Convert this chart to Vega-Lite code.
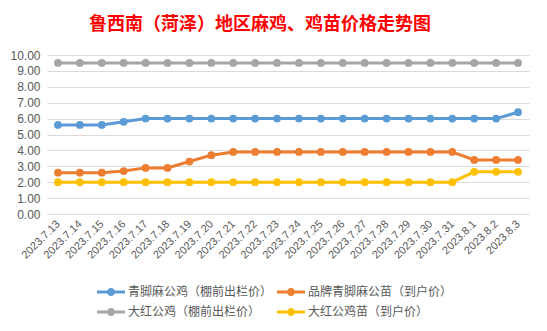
{
  "$schema": "https://vega.github.io/schema/vega-lite/v6.json",
  "autosize": "none",
  "width": 482,
  "height": 159,
  "padding": {"left": 47, "top": 55, "right": 18, "bottom": 117},
  "background": "white",
  "title": {
    "text": "鲁西南（菏泽）地区麻鸡、鸡苗价格走势图",
    "font": "Noto Sans CJK SC",
    "fontSize": 18,
    "fontWeight": "bold",
    "color": "#ff0000",
    "anchor": "middle",
    "dx": -28,
    "offset": 15
  },
  "config": {
    "view": {"stroke": null},
    "font": "Noto Sans CJK SC"
  },
  "data": {
    "values": [
      {"date": "2023.7.13", "series": "青脚麻公鸡（棚前出栏价）", "price": 5.6},
      {"date": "2023.7.14", "series": "青脚麻公鸡（棚前出栏价）", "price": 5.6},
      {"date": "2023.7.15", "series": "青脚麻公鸡（棚前出栏价）", "price": 5.6},
      {"date": "2023.7.16", "series": "青脚麻公鸡（棚前出栏价）", "price": 5.8},
      {"date": "2023.7.17", "series": "青脚麻公鸡（棚前出栏价）", "price": 6.0},
      {"date": "2023.7.18", "series": "青脚麻公鸡（棚前出栏价）", "price": 6.0},
      {"date": "2023.7.19", "series": "青脚麻公鸡（棚前出栏价）", "price": 6.0},
      {"date": "2023.7.20", "series": "青脚麻公鸡（棚前出栏价）", "price": 6.0},
      {"date": "2023.7.21", "series": "青脚麻公鸡（棚前出栏价）", "price": 6.0},
      {"date": "2023.7.22", "series": "青脚麻公鸡（棚前出栏价）", "price": 6.0},
      {"date": "2023.7.23", "series": "青脚麻公鸡（棚前出栏价）", "price": 6.0},
      {"date": "2023.7.24", "series": "青脚麻公鸡（棚前出栏价）", "price": 6.0},
      {"date": "2023.7.25", "series": "青脚麻公鸡（棚前出栏价）", "price": 6.0},
      {"date": "2023.7.26", "series": "青脚麻公鸡（棚前出栏价）", "price": 6.0},
      {"date": "2023.7.27", "series": "青脚麻公鸡（棚前出栏价）", "price": 6.0},
      {"date": "2023.7.28", "series": "青脚麻公鸡（棚前出栏价）", "price": 6.0},
      {"date": "2023.7.29", "series": "青脚麻公鸡（棚前出栏价）", "price": 6.0},
      {"date": "2023.7.30", "series": "青脚麻公鸡（棚前出栏价）", "price": 6.0},
      {"date": "2023.7.31", "series": "青脚麻公鸡（棚前出栏价）", "price": 6.0},
      {"date": "2023.8.1", "series": "青脚麻公鸡（棚前出栏价）", "price": 6.0},
      {"date": "2023.8.2", "series": "青脚麻公鸡（棚前出栏价）", "price": 6.0},
      {"date": "2023.8.3", "series": "青脚麻公鸡（棚前出栏价）", "price": 6.4},
      {"date": "2023.7.13", "series": "品牌青脚麻公苗（到户价）", "price": 2.6},
      {"date": "2023.7.14", "series": "品牌青脚麻公苗（到户价）", "price": 2.6},
      {"date": "2023.7.15", "series": "品牌青脚麻公苗（到户价）", "price": 2.6},
      {"date": "2023.7.16", "series": "品牌青脚麻公苗（到户价）", "price": 2.7},
      {"date": "2023.7.17", "series": "品牌青脚麻公苗（到户价）", "price": 2.9},
      {"date": "2023.7.18", "series": "品牌青脚麻公苗（到户价）", "price": 2.9},
      {"date": "2023.7.19", "series": "品牌青脚麻公苗（到户价）", "price": 3.3},
      {"date": "2023.7.20", "series": "品牌青脚麻公苗（到户价）", "price": 3.7},
      {"date": "2023.7.21", "series": "品牌青脚麻公苗（到户价）", "price": 3.9},
      {"date": "2023.7.22", "series": "品牌青脚麻公苗（到户价）", "price": 3.9},
      {"date": "2023.7.23", "series": "品牌青脚麻公苗（到户价）", "price": 3.9},
      {"date": "2023.7.24", "series": "品牌青脚麻公苗（到户价）", "price": 3.9},
      {"date": "2023.7.25", "series": "品牌青脚麻公苗（到户价）", "price": 3.9},
      {"date": "2023.7.26", "series": "品牌青脚麻公苗（到户价）", "price": 3.9},
      {"date": "2023.7.27", "series": "品牌青脚麻公苗（到户价）", "price": 3.9},
      {"date": "2023.7.28", "series": "品牌青脚麻公苗（到户价）", "price": 3.9},
      {"date": "2023.7.29", "series": "品牌青脚麻公苗（到户价）", "price": 3.9},
      {"date": "2023.7.30", "series": "品牌青脚麻公苗（到户价）", "price": 3.9},
      {"date": "2023.7.31", "series": "品牌青脚麻公苗（到户价）", "price": 3.9},
      {"date": "2023.8.1", "series": "品牌青脚麻公苗（到户价）", "price": 3.4},
      {"date": "2023.8.2", "series": "品牌青脚麻公苗（到户价）", "price": 3.4},
      {"date": "2023.8.3", "series": "品牌青脚麻公苗（到户价）", "price": 3.4},
      {"date": "2023.7.13", "series": "大红公鸡（棚前出栏价）", "price": 9.5},
      {"date": "2023.7.14", "series": "大红公鸡（棚前出栏价）", "price": 9.5},
      {"date": "2023.7.15", "series": "大红公鸡（棚前出栏价）", "price": 9.5},
      {"date": "2023.7.16", "series": "大红公鸡（棚前出栏价）", "price": 9.5},
      {"date": "2023.7.17", "series": "大红公鸡（棚前出栏价）", "price": 9.5},
      {"date": "2023.7.18", "series": "大红公鸡（棚前出栏价）", "price": 9.5},
      {"date": "2023.7.19", "series": "大红公鸡（棚前出栏价）", "price": 9.5},
      {"date": "2023.7.20", "series": "大红公鸡（棚前出栏价）", "price": 9.5},
      {"date": "2023.7.21", "series": "大红公鸡（棚前出栏价）", "price": 9.5},
      {"date": "2023.7.22", "series": "大红公鸡（棚前出栏价）", "price": 9.5},
      {"date": "2023.7.23", "series": "大红公鸡（棚前出栏价）", "price": 9.5},
      {"date": "2023.7.24", "series": "大红公鸡（棚前出栏价）", "price": 9.5},
      {"date": "2023.7.25", "series": "大红公鸡（棚前出栏价）", "price": 9.5},
      {"date": "2023.7.26", "series": "大红公鸡（棚前出栏价）", "price": 9.5},
      {"date": "2023.7.27", "series": "大红公鸡（棚前出栏价）", "price": 9.5},
      {"date": "2023.7.28", "series": "大红公鸡（棚前出栏价）", "price": 9.5},
      {"date": "2023.7.29", "series": "大红公鸡（棚前出栏价）", "price": 9.5},
      {"date": "2023.7.30", "series": "大红公鸡（棚前出栏价）", "price": 9.5},
      {"date": "2023.7.31", "series": "大红公鸡（棚前出栏价）", "price": 9.5},
      {"date": "2023.8.1", "series": "大红公鸡（棚前出栏价）", "price": 9.5},
      {"date": "2023.8.2", "series": "大红公鸡（棚前出栏价）", "price": 9.5},
      {"date": "2023.8.3", "series": "大红公鸡（棚前出栏价）", "price": 9.5},
      {"date": "2023.7.13", "series": "大红公鸡苗（到户价）", "price": 2.0},
      {"date": "2023.7.14", "series": "大红公鸡苗（到户价）", "price": 2.0},
      {"date": "2023.7.15", "series": "大红公鸡苗（到户价）", "price": 2.0},
      {"date": "2023.7.16", "series": "大红公鸡苗（到户价）", "price": 2.0},
      {"date": "2023.7.17", "series": "大红公鸡苗（到户价）", "price": 2.0},
      {"date": "2023.7.18", "series": "大红公鸡苗（到户价）", "price": 2.0},
      {"date": "2023.7.19", "series": "大红公鸡苗（到户价）", "price": 2.0},
      {"date": "2023.7.20", "series": "大红公鸡苗（到户价）", "price": 2.0},
      {"date": "2023.7.21", "series": "大红公鸡苗（到户价）", "price": 2.0},
      {"date": "2023.7.22", "series": "大红公鸡苗（到户价）", "price": 2.0},
      {"date": "2023.7.23", "series": "大红公鸡苗（到户价）", "price": 2.0},
      {"date": "2023.7.24", "series": "大红公鸡苗（到户价）", "price": 2.0},
      {"date": "2023.7.25", "series": "大红公鸡苗（到户价）", "price": 2.0},
      {"date": "2023.7.26", "series": "大红公鸡苗（到户价）", "price": 2.0},
      {"date": "2023.7.27", "series": "大红公鸡苗（到户价）", "price": 2.0},
      {"date": "2023.7.28", "series": "大红公鸡苗（到户价）", "price": 2.0},
      {"date": "2023.7.29", "series": "大红公鸡苗（到户价）", "price": 2.0},
      {"date": "2023.7.30", "series": "大红公鸡苗（到户价）", "price": 2.0},
      {"date": "2023.7.31", "series": "大红公鸡苗（到户价）", "price": 2.0},
      {"date": "2023.8.1", "series": "大红公鸡苗（到户价）", "price": 2.65},
      {"date": "2023.8.2", "series": "大红公鸡苗（到户价）", "price": 2.65},
      {"date": "2023.8.3", "series": "大红公鸡苗（到户价）", "price": 2.65}
    ]
  },
  "mark": {"type": "line", "strokeWidth": 3, "point": {"size": 60, "filled": true, "opacity": 1}},
  "encoding": {
    "x": {
      "field": "date",
      "type": "ordinal",
      "sort": null,
      "scale": {"type": "point", "padding": 0.5},
      "axis": {
        "title": null,
        "labelAngle": -45,
        "labelAlign": "right",
        "labelBaseline": "middle",
        "labelFontSize": 11,
        "labelColor": "#595959",
        "labelFont": "Liberation Sans",
        "labelPadding": 8,
        "ticks": false,
        "domain": false,
        "grid": false
      }
    },
    "y": {
      "field": "price",
      "type": "quantitative",
      "scale": {"domain": [0, 10], "nice": false},
      "axis": {
        "title": null,
        "values": [0, 1, 2, 3, 4, 5, 6, 7, 8, 9, 10],
        "format": ".2f",
        "labelFontSize": 12,
        "labelColor": "#595959",
        "labelFont": "Liberation Sans",
        "labelPadding": 7,
        "ticks": false,
        "domain": false,
        "gridColor": "#d9d9d9",
        "gridWidth": 1
      }
    },
    "color": {
      "field": "series",
      "type": "nominal",
      "scale": {
        "domain": ["青脚麻公鸡（棚前出栏价）", "品牌青脚麻公苗（到户价）", "大红公鸡（棚前出栏价）", "大红公鸡苗（到户价）"],
        "range": ["#5b9bd5", "#ed7d31", "#a5a5a5", "#ffc000"]
      },
      "legend": {
        "title": null,
        "orient": "none",
        "legendX": 50,
        "legendY": 223,
        "direction": "horizontal",
        "columns": 2,
        "padding": 0,
        "labelFontSize": 12,
        "labelColor": "#595959",
        "labelFont": "Noto Sans CJK SC",
        "columnPadding": 4,
        "rowPadding": 0,
        "symbolType": "M-1,-0.107H1V0.107H-1Z M-0.29,0A0.29,0.29 0 1,1 0.29,0A0.29,0.29 0 1,1 -0.29,0Z",
        "symbolSize": 784,
        "symbolStrokeWidth": 0,
        "labelOffset": 3,
        "encode": {
          "symbols": {
            "update": {
              "fill": {"scale": "color", "field": "value"},
              "stroke": {"scale": "color", "field": "value"},
              "strokeWidth": {"value": 0},
              "opacity": {"value": 1}
            }
          }
        }
      }
    }
  }
}
